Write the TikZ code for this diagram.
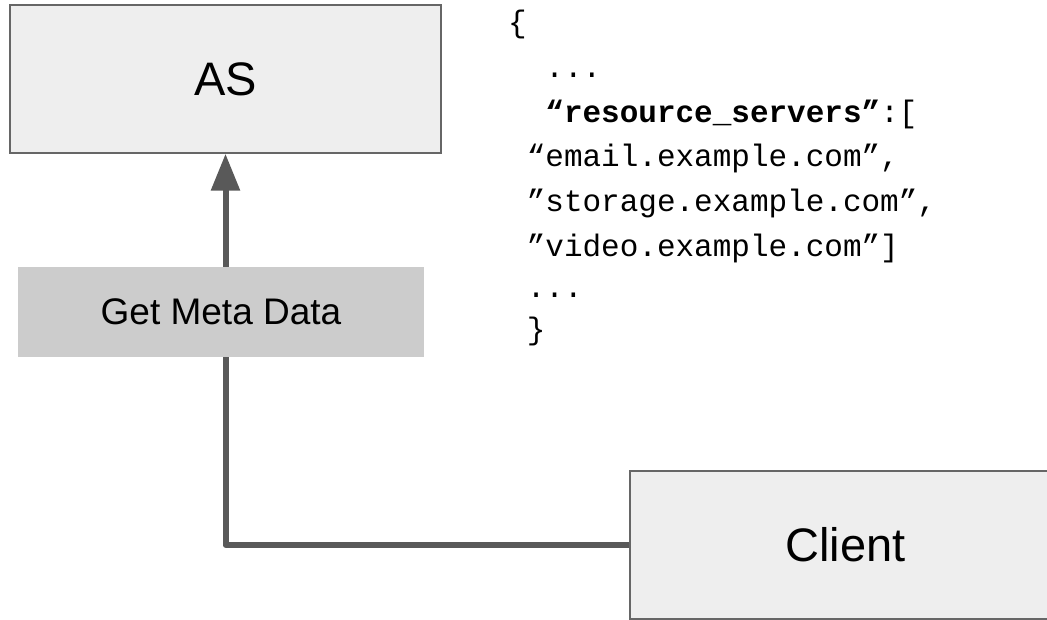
\documentclass[tikz,border=0pt]{standalone}
\usepackage{fontspec}
\setmainfont{Liberation Sans}
\setmonofont{Liberation Mono}
\usepackage{tikz}
\usetikzlibrary{arrows.meta,positioning}

\definecolor{boxfill}{HTML}{EEEEEE}
\definecolor{boxline}{HTML}{666666}
\definecolor{labelfill}{HTML}{CCCCCC}
\definecolor{flowgray}{HTML}{595959}

\begin{document}
\begin{tikzpicture}[x=1pt, y=-1pt,
    server/.style={draw=boxline, line width=1.5pt, fill=boxfill, minimum width=431pt,
      minimum height=148pt, inner sep=0pt, font=\fontsize{47}{56}\selectfont},
    msglabel/.style={fill=labelfill, minimum width=406pt, minimum height=90pt,
      inner sep=0pt, font=\fontsize{37}{44}\selectfont},
    codeline/.style={anchor=base west, inner sep=0pt, font=\ttfamily\fontsize{31}{37}\selectfont},
    flow/.style={draw=flowgray, line width=6pt, line join=round,
      -{Triangle[length=37pt, width=28pt]}}]
  \clip (0,0) rectangle (1047,620);

  % Boxes
  \node[server] (as) at (225.5,79) {AS};
  \node[server] (client) at (845.5,545) {Client};

  % Request path from the client up to the AS
  \draw[flow] (client.west) -| (as.south);
  \node[msglabel] (getmeta) at (221,312) {Get Meta Data};

  % Metadata document, one node per line (indent in characters)
  \foreach \n/\ind/\yb/\txt in {
      1/0/33/{\{},
      2/2/78/{...},
      3/2/123/{\textbf{“resource\_servers”}:[},
      4/1/167/{“email.example.com”,},
      5/1/212/{”storage.example.com”,},
      6/1/257/{”video.example.com”]},
      7/1/298/{...},
      8/1/340/{\}}} {
    \node[codeline] (code\n) at (508+\ind*18.6,\yb) {\txt};
  }
\end{tikzpicture}
\end{document}
